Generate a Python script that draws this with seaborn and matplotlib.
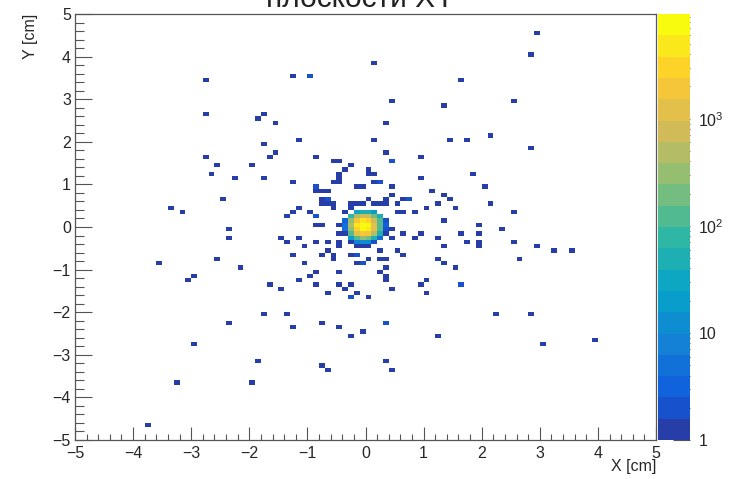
import numpy as np
import pandas as pd
import matplotlib
matplotlib.use("Agg")
import matplotlib.pyplot as plt
from matplotlib.colors import LinearSegmentedColormap, ListedColormap, LogNorm
from matplotlib.ticker import MultipleLocator, FixedLocator, FixedFormatter, LogLocator, NullFormatter
import seaborn as sns

# ---------------- data ----------------
TITLE = "плоскости XY"
X_LABEL = "X [cm]"
Y_LABEL = "Y [cm]"

# isolated cells (bin centres, cm) and their counts
scatter_x = [
    -2.75, -2.75, -1.75, -1.85, -1.75, -1.65, -2.75, -2.55, -1.95, -2.65, -2.25, -1.75, -2.45, -3.35, -3.15, -2.35,
    0.15, -1.25, -0.95, 1.65, 0.45, 1.35, -1.55, 0.35, -1.15, 0.15, 1.45, 1.75, -1.55, -0.85, 0.35, 0.45, 0.95,
    -0.55, -0.45, -0.25, -0.35, -0.45, -0.45, -0.55, -0.45, 0.05, 0.05, 0.15, 0.15, 0.25, -1.25, 0.95, -0.15, -0.05,
    0.45, -0.85, -0.85, -0.75, -0.65, 1.15, 1.35, 0.45, 1.45, 1.25, 1.55, 1.05, -0.75, -0.65, -0.75, -0.65, -0.55,
    -0.55, -1.15, -1.25, -1.35, -0.95, -0.85, -0.35, -0.25, -0.25, -0.15, -0.05, 0.05, 0.15, 0.25, 0.35, 0.35, 0.55,
    0.65, 0.75, 0.55, 0.65, 0.85, 1.35,
    2.95, 2.85, 2.55, 2.15, 2.85, 1.85, 2.05, 2.15, 2.55, 1.95, 2.35,
    1.95, 1.65, 1.75, 1.95, 1.95, 2.55, 2.95, 3.25, 3.55, 2.65, 1.65, 2.25, 2.85, 3.05, 3.95,
    -2.35, -3.55, -2.55, -2.15, -2.95, -3.05, -1.65, -1.75, -2.35, -2.95, -1.85, -3.25, -1.95, -3.75,
    -0.85, -0.75, -0.45, 0.45, 0.45, 0.65, 0.95, 0.85, 1.25, -1.45, -1.35, -1.15, -1.05, -0.85, -0.65, -0.45, -0.45,
    -0.15, -0.05, 0.05, 0.25, 0.55, 0.65, 1.35, 1.25, 1.35, 1.55, -1.25, -0.75, -0.55, -0.55, -0.25, -0.15, -0.65,
    0.05, 0.25, 0.35, -1.05, -0.15, -0.05, 0.35, 0.25, 0.35, 0.35, -0.85, -0.95, -0.45, -1.15, -1.45, -0.85, -0.45,
    -0.35, -0.25, -0.65, -0.25, -0.15, 0.05, 0.45, 0.95, 1.05, 1.05, -1.35, -1.25, -0.75, -0.45, -0.25, -0.05, 0.35,
    1.25, -0.75, -0.65, 0.35, 0.45, -0.45,
]
scatter_y = [
    3.45, 2.65, 2.65, 2.55, 1.95, 1.65, 1.65, 1.45, 1.45, 1.25, 1.15, 1.15, 0.65, 0.45, 0.35, -0.05,
    3.85, 3.55, 3.55, 3.45, 2.95, 2.85, 2.45, 2.45, 2.05, 2.05, 2.05, 2.05, 1.75, 1.65, 1.75, 1.55, 1.65,
    1.55, 1.55, 1.45, 1.35, 1.25, 1.15, 1.05, 1.05, 1.35, 1.25, 1.25, 1.05, 1.05, 1.05, 1.15, 0.95, 0.95,
    0.95, 0.95, 0.85, 0.85, 0.85, 0.85, 0.75, 0.75, 0.65, 0.55, 0.45, 0.45, 0.65, 0.65, 0.55, 0.55, 0.55,
    0.45, 0.45, 0.35, 0.25, 0.35, 0.25, 0.35, 0.55, 0.45, 0.55, 0.55, 0.65, 0.55, 0.55, 0.65, 0.55, 0.55,
    0.65, 0.65, 0.35, 0.35, 0.35, 0.15,
    4.55, 4.05, 2.95, 2.15, 1.85, 1.25, 0.95, 0.55, 0.35, 0.05, -0.05,
    -0.15, -0.15, -0.35, -0.35, -0.45, -0.35, -0.45, -0.55, -0.55, -0.75, -1.35, -2.05, -2.05, -2.75, -2.65,
    -0.25, -0.85, -0.75, -0.95, -1.15, -1.25, -1.35, -2.05, -2.25, -2.75, -3.15, -3.65, -3.65, -4.65,
    0.05, 0.05, 0.05, -0.05, -0.25, -0.15, -0.15, -0.25, -0.25, -0.25, -0.35, -0.25, -0.45, -0.35, -0.35, -0.35, -0.45,
    -0.45, -0.45, -0.45, -0.55, -0.55, -0.65, -0.45, -0.75, -0.85, -0.95, -0.65, -0.65, -0.65, -0.75, -0.65, -0.65, -0.55,
    -0.75, -0.75, -0.75, -0.85, -0.85, -0.85, -0.95, -1.05, -1.15, -1.25, -1.05, -1.15, -1.05, -1.25, -1.45, -1.35, -1.35,
    -1.45, -1.35, -1.55, -1.65, -1.55, -1.65, -1.45, -1.35, -1.25, -1.55, -2.05, -2.35, -2.25, -2.35, -2.55, -2.45, -2.25,
    -2.55, -3.25, -3.35, -3.15, -3.35, -0.15,
]
scatter_n = [1] * len(scatter_x)
for i, (sx, sy) in enumerate(zip(scatter_x, scatter_y)):
    if (sx, sy) in [(-0.95, 3.55), (0.45, 1.55), (0.25, 1.05), (-0.85, 0.95), (-0.65, 0.65), (-0.85, 0.25),
                    (0.75, 0.65), (1.65, -1.35), (-0.15, -0.65), (-0.05, -0.85), (-0.25, -1.65), (0.35, -2.25)]:
        scatter_n[i] = 2

# dense core of the beam spot (bin centres, cm) and counts
core_x = [-0.35, -0.25, -0.15, -0.05, 0.05, 0.15, 0.25, 0.35]
core_y = [0.35, 0.25, 0.15, 0.05, -0.05, -0.15, -0.25, -0.35]
core_counts = [
    [0, 0, 30, 60, 50, 20, 0, 0],
    [0, 80, 400, 900, 700, 200, 40, 0],
    [3, 250, 2000, 4500, 3500, 900, 120, 2],
    [5, 400, 4000, 8800, 6500, 1300, 150, 3],
    [4, 350, 3300, 7500, 5500, 1100, 120, 2],
    [1, 150, 1000, 2400, 1800, 400, 60, 1],
    [0, 20, 120, 300, 200, 60, 5, 0],
    [0, 1, 8, 15, 10, 2, 0, 0],
]

x_ticks = [-5, -4, -3, -2, -1, 0, 1, 2, 3, 4, 5]
y_ticks = [-5, -4, -3, -2, -1, 0, 1, 2, 3, 4, 5]
z_ticks = [1, 10, 100, 1000]
z_tick_labels = ["1", "10", r"$10^{2}$", r"$10^{3}$"]
Z_MIN, Z_MAX = 1, 9500

# ---------------- build table ----------------
xs, ys, ws = list(scatter_x), list(scatter_y), list(scatter_n)
for r, yv in enumerate(core_y):
    for c, xv in enumerate(core_x):
        if core_counts[r][c] > 0:
            xs.append(xv); ys.append(yv); ws.append(core_counts[r][c])
df = pd.DataFrame({"x": xs, "y": ys, "w": ws})

# ---------------- style ----------------
sns.set_style("white")
plt.rcParams["font.family"] = ["Liberation Sans", "DejaVu Sans"]
plt.rcParams["mathtext.fontset"] = "custom"
plt.rcParams["mathtext.rm"] = "Liberation Sans"
plt.rcParams["mathtext.it"] = "Liberation Sans:italic"
plt.rcParams["axes.unicode_minus"] = True

# ROOT kBird palette, 20 contour levels
bird_stops = [0.0, 0.125, 0.25, 0.375, 0.5, 0.625, 0.75, 0.875, 1.0]
bird_r = [0.2082, 0.0592, 0.0780, 0.0232, 0.1802, 0.5301, 0.8186, 0.9956, 0.9764]
bird_g = [0.1664, 0.3599, 0.5041, 0.6419, 0.7178, 0.7492, 0.7328, 0.7862, 0.9832]
bird_b = [0.5293, 0.8684, 0.8385, 0.7914, 0.6425, 0.4662, 0.3499, 0.1968, 0.0539]
bird = LinearSegmentedColormap.from_list(
    "bird", [(s, (r, g, b)) for s, r, g, b in zip(bird_stops, bird_r, bird_g, bird_b)], N=255)
n_levels = 20
cmap = ListedColormap([bird(min((i + 0.99) / n_levels, 1.0)) for i in range(n_levels)])
norm = LogNorm(vmin=Z_MIN, vmax=Z_MAX)

W, H = 729, 479
fig = plt.figure(figsize=(W / 100, H / 100), dpi=100)
fig.patch.set_facecolor("white")
L, R, T, B = 75, 656, 14, 440
ax = fig.add_axes([L / W, 1 - B / H, (R - L) / W, (B - T) / H])
cax = fig.add_axes([658 / W, 1 - B / H, 32 / W, (B - T) / H])

sns.histplot(data=df, x="x", y="y", weights="w", bins=100, binrange=((-5, 5), (-5, 5)),
             cmap=cmap, norm=norm, vmin=None, vmax=None, cbar=False, ax=ax)
mesh = ax.collections[0]

ax.set_xlim(-5, 5)
ax.set_ylim(-5, 5)
ax.set_xticks(x_ticks)
ax.set_yticks(y_ticks)
ax.xaxis.set_minor_locator(MultipleLocator(0.2))
ax.yaxis.set_minor_locator(MultipleLocator(0.2))
frame_col = "#555555"
for s in ax.spines.values():
    s.set_color(frame_col)
    s.set_linewidth(0.9)
ax.tick_params(axis="x", which="major", direction="in", length=9.2, width=0.8, color=frame_col,
               labelsize=11.5, pad=4, top=False, bottom=True)
ax.tick_params(axis="x", which="minor", direction="in", length=4.6, width=0.8, color=frame_col, top=False, bottom=True)
ax.tick_params(axis="y", which="major", direction="in", length=12.5, width=0.8, color=frame_col,
               labelsize=11.5, pad=3, left=True, right=False)
ax.tick_params(axis="y", which="minor", direction="in", length=6.3, width=0.8, color=frame_col, left=True, right=False)
ax.grid(False)

ax.set_xlabel(X_LABEL, fontsize=11.5)
ax.xaxis.label.set(ha="right", va="center")
ax.xaxis.set_label_coords(1.0, (B - 467) / (B - T))
ax.set_ylabel(Y_LABEL, fontsize=11.5)
ax.yaxis.label.set(rotation_mode="default", ha="center", va="top")
ax.yaxis.set_label_coords((31 - L) / (R - L), 1.0)

cb = fig.colorbar(mesh, cax=cax)
cb.outline.set_visible(False)
cax.yaxis.set_major_locator(FixedLocator(z_ticks))
cax.yaxis.set_major_formatter(FixedFormatter(z_tick_labels))
cax.yaxis.set_minor_locator(LogLocator(base=10, subs=np.arange(2, 10)))
cax.yaxis.set_minor_formatter(NullFormatter())
cax.tick_params(axis="y", which="major", direction="in", length=12, width=0.8, color=frame_col,
                labelsize=11.5, pad=6, right=True, left=False)
cax.tick_params(axis="y", which="minor", direction="in", length=6, width=0.8, color=frame_col,
                right=True, left=False)

fig.text(360 / W, 1 - 7 / H, TITLE, ha="center", va="baseline", fontsize=21.5, color="#222222")

fig.savefig("out.png", dpi=100, facecolor="white")
